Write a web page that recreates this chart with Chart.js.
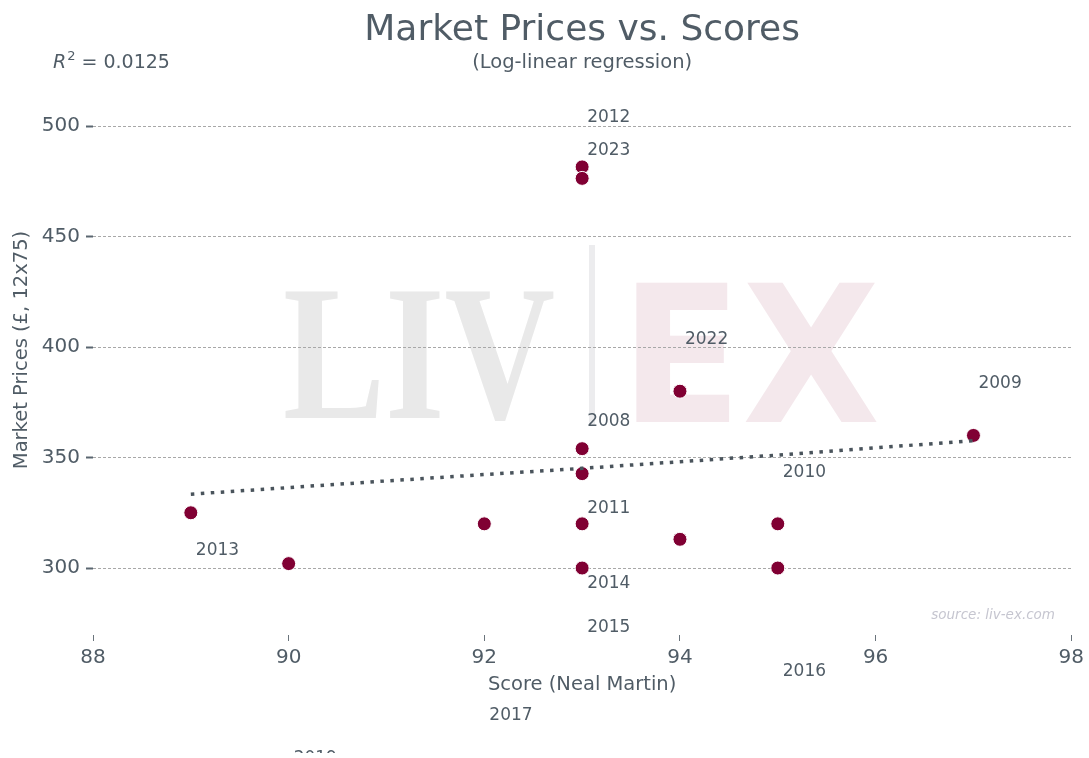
<!DOCTYPE html>
<html>
<head>
<meta charset="utf-8">
<title>Market Prices vs. Scores</title>
<script src="https://cdn.jsdelivr.net/npm/chart.js@4.4.1/dist/chart.umd.min.js"></script>
<style>
  html, body { margin: 0; padding: 0; background: #fff; }
  canvas { display: block; }
</style>
</head>
<body>
<canvas id="chart" width="1089" height="753"></canvas>
<script>
// vintages: Neal Martin score vs market price (GBP, 12x75)
const scores = [89, 90, 92, 93, 93, 93, 93, 93, 93, 94, 94, 95, 95, 97];
const prices = [325, 302, 320, 481.5, 476.3, 354, 342.7, 320, 300, 380, 313, 320, 300, 360];

// log-linear fit
const trendScores = [89, 90, 91, 92, 93, 94, 95, 96, 97];
const trendPrices = [333.4, 336.4, 339.4, 342.3, 345.1, 348.1, 351.1, 354.4, 357.6];

// year labels (where they sit in data space)
const labelYears = ['2012', '2023', '2022', '2009', '2008', '2010', '2011', '2013', '2014', '2015', '2016', '2017', '2019'];
const labelScores = [93, 93, 94, 97, 93, 95, 93, 89, 93, 93, 95, 92, 90];
const labelPrices = [504, 488.7, 403.2, 383.3, 366.1, 343, 326.7, 308.1, 292.8, 272.9, 253, 233.1, 214];

const xTicks = [88, 90, 92, 94, 96, 98];
const yTicks = [300, 350, 400, 450, 500];
const rSquared = '0.0125';

const TEXT = '#505c66';
const FONT = "'DejaVu Sans', sans-serif";

Chart.defaults.font.family = FONT;
Chart.defaults.color = TEXT;

// squeeze a word into a pixel box (watermark only)
function fitText(ctx, text, font, left, right, baseline, color) {
    ctx.font = font;
    const w = ctx.measureText(text).width;
    ctx.save();
    ctx.fillStyle = color;
    ctx.translate(left, baseline);
    ctx.scale((right - left) / w, 1);
    ctx.textBaseline = 'alphabetic';
    ctx.fillText(text, 0, 0);
    ctx.restore();
}

const decor = {
    id: 'decor',
    beforeDraw(chart) {
        const ctx = chart.ctx;
        ctx.save();
        fitText(ctx, 'LIV', "bold 193px 'Liberation Serif', serif", 283, 555, 418, '#e9e9e9');
        ctx.fillStyle = '#ececee';
        ctx.fillRect(589, 245, 6, 180);
        fitText(ctx, 'EX', "bold 190px 'DejaVu Sans', sans-serif", 620, 880, 422, '#f4e8ec');
        ctx.restore();
    },
    afterDraw(chart) {
        const {ctx, chartArea, scales} = chart;
        const cx = (chartArea.left + chartArea.right) / 2;
        ctx.save();
        ctx.fillStyle = TEXT;
        ctx.textBaseline = 'alphabetic';

        ctx.textAlign = 'center';
        ctx.font = `36px ${FONT}`;
        ctx.fillText('Market Prices vs. Scores', cx, 40);
        ctx.font = `19.5px ${FONT}`;
        ctx.fillText('(Log-linear regression)', cx, 68);

        // R² note
        ctx.textAlign = 'left';
        let x = 53;
        ctx.font = `italic 19px ${FONT}`;
        ctx.fillText('R', x, 68);
        x += ctx.measureText('R').width + 1;
        ctx.font = `13px ${FONT}`;
        ctx.fillText('2', x, 60);
        x += ctx.measureText('2').width;
        ctx.font = `19px ${FONT}`;
        ctx.fillText(' = ' + rSquared, x, 68);

        // source
        ctx.font = `italic 13.5px ${FONT}`;
        ctx.fillStyle = '#c6c6d0';
        ctx.textAlign = 'right';
        ctx.fillText('source: liv-ex.com', 1055, 619);

        // year labels
        ctx.fillStyle = TEXT;
        ctx.font = `17px ${FONT}`;
        ctx.textAlign = 'left';
        ctx.textBaseline = 'middle';
        labelYears.forEach((yr, i) => {
            const px = scales.x.getPixelForValue(labelScores[i]) + 5;
            const py = scales.y.getPixelForValue(labelPrices[i]);
            ctx.fillText(yr, px, py);
        });
        ctx.restore();
    }
};

const ctx = document.getElementById('chart').getContext('2d');

new Chart(ctx, {
    type: 'scatter',
    data: {
        datasets: [
            {
                type: 'line',
                label: 'Fit',
                data: trendScores.map((s, i) => ({x: s, y: trendPrices[i]})),
                borderColor: '#4a545c',
                borderWidth: 3.5,
                borderDash: [3.5, 6.5],
                pointRadius: 0,
                fill: false,
                tension: 0
            },
            {
                label: 'Vintages',
                data: scores.map((s, i) => ({x: s, y: prices[i]})),
                backgroundColor: '#800033',
                borderColor: '#ffffff',
                borderWidth: 1,
                pointRadius: 7,
                pointHoverRadius: 7
            }
        ]
    },
    options: {
        responsive: false,
        animation: false,
        layout: {
            padding: { top: 65, right: 16, bottom: 0, left: 0 }
        },
        plugins: {
            legend: { display: false },
            tooltip: { enabled: false }
        },
        scales: {
            x: {
                type: 'linear',
                min: 88,
                max: 98,
                afterBuildTicks: (s) => { s.ticks = xTicks.map(v => ({value: v})); },
                afterFit: (s) => { s.height = 118; },
                grid: {
                    drawOnChartArea: false,
                    drawTicks: true,
                    tickLength: 6,
                    tickColor: '#6a747c',
                    tickWidth: 1
                },
                border: { display: false },
                ticks: {
                    color: TEXT,
                    font: { size: 20 },
                    padding: 5,
                    maxRotation: 0
                },
                title: {
                    display: true,
                    text: 'Score (Neal Martin)',
                    color: TEXT,
                    font: { size: 19.5 },
                    padding: { top: 0, bottom: 56 }
                }
            },
            y: {
                type: 'linear',
                min: 269.7,
                max: 527.6,
                afterBuildTicks: (s) => { s.ticks = yTicks.map(v => ({value: v})); },
                afterFit: (s) => { s.width = 93; },
                grid: {
                    color: '#a8a8a8',
                    lineWidth: 1,
                    drawTicks: true,
                    tickLength: 7,
                    tickColor: '#5a6670',
                    tickWidth: 2
                },
                border: { display: false, dash: [3, 2] },
                ticks: {
                    color: TEXT,
                    font: { size: 20 },
                    padding: 6
                },
                title: {
                    display: true,
                    text: 'Market Prices (£, 12x75)',
                    color: TEXT,
                    font: { size: 19.5 },
                    padding: { top: 10, bottom: 0 }
                }
            }
        }
    },
    plugins: [decor]
});
</script>
</body>
</html>
